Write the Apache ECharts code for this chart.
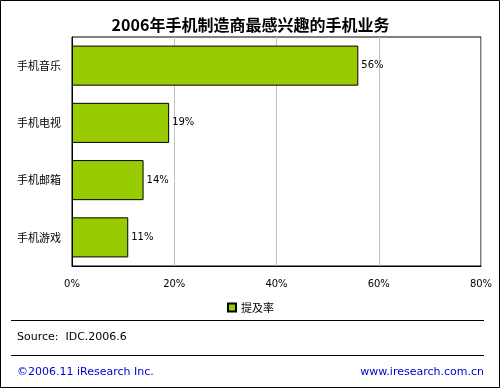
<!DOCTYPE html>
<html><head><meta charset="utf-8">
<script src="https://cdn.jsdelivr.net/npm/echarts@6/dist/echarts.min.js"></script>
<style>html,body{margin:0;padding:0;background:#fff}#c{width:501px;height:389px}</style>
</head><body><div id="c"></div>
<script>
const categories = ['手机音乐','手机电视','手机邮箱','手机游戏'];
const values = [56, 19, 14, 11];
const xTicks = [0, 20, 40, 60, 80];
const seriesName = '提及率';
const titleText = '2006年手机制造商最感兴趣的手机业务';
const sourceText = 'Source:  IDC.2006.6';
const copyrightText = '©2006.11 iResearch Inc.';
const siteText = 'www.iresearch.com.cn';

const chart = echarts.init(document.getElementById('c'), null, {renderer:'canvas'});
const smallFont = 'Tahoma, "DejaVu Sans", "Noto Sans CJK SC", sans-serif';
chart.setOption({
  animation:false,
  backgroundColor:'#fff',
  title:{text:titleText,left:'center',top:12,textStyle:{fontSize:16,fontWeight:'bold',color:'#000',fontFamily:'"Noto Sans CJK SC", sans-serif'}},
  grid:{left:72,right:20,top:37,bottom:123,show:true,borderColor:'#000',borderWidth:1,backgroundColor:'#fff'},
  legend:{data:[seriesName],top:297,left:'center',itemWidth:8,itemHeight:8,itemGap:4,
    textStyle:{fontSize:11,color:'#000',fontFamily:'"Noto Sans CJK SC", sans-serif'},
    icon:'rect'},
  xAxis:{type:'value',min:xTicks[0],max:xTicks[xTicks.length-1],interval:20,
    axisLine:{show:true,lineStyle:{color:'#000'}},axisTick:{show:false},
    splitLine:{show:true,lineStyle:{color:'#c0c0c0',width:1}},
    axisLabel:{formatter:'{value}%',margin:13,fontSize:10,color:'#000',fontFamily:smallFont}},
  yAxis:{type:'category',data:categories,inverse:true,
    axisLine:{show:true,lineStyle:{color:'#000'}},axisTick:{show:false},
    axisLabel:{margin:11,fontSize:11,color:'#000',fontFamily:'"Noto Sans CJK SC", sans-serif'}},
  series:[{name:seriesName,type:'bar',data:values,barCategoryGap:'30%',
    itemStyle:{color:'#99cc00',borderColor:'#000',borderWidth:1},
    label:{show:true,position:'right',distance:3,formatter:'{c}%',fontSize:10,color:'#000',fontFamily:smallFont}}],
  graphic:[
    {type:'rect',shape:{x:0.5,y:0.5,width:499,height:387},style:{fill:null,stroke:'#000',lineWidth:1},z:-1},
    {type:'line',shape:{x1:11,y1:320.5,x2:484,y2:320.5},style:{stroke:'#000',lineWidth:1}},
    {type:'line',shape:{x1:11,y1:355.5,x2:484,y2:355.5},style:{stroke:'#000',lineWidth:1}},
    {type:'text',left:17,top:332,style:{text:sourceText,fontSize:11,fill:'#000',fontFamily:smallFont}},
    {type:'text',left:17,top:367,style:{text:copyrightText,fontSize:11,fill:'#0000cc',fontFamily:smallFont}},
    {type:'text',right:17,top:367,style:{text:siteText,fontSize:11,fill:'#0000cc',fontFamily:smallFont}}
  ]
});
</script></body></html>
